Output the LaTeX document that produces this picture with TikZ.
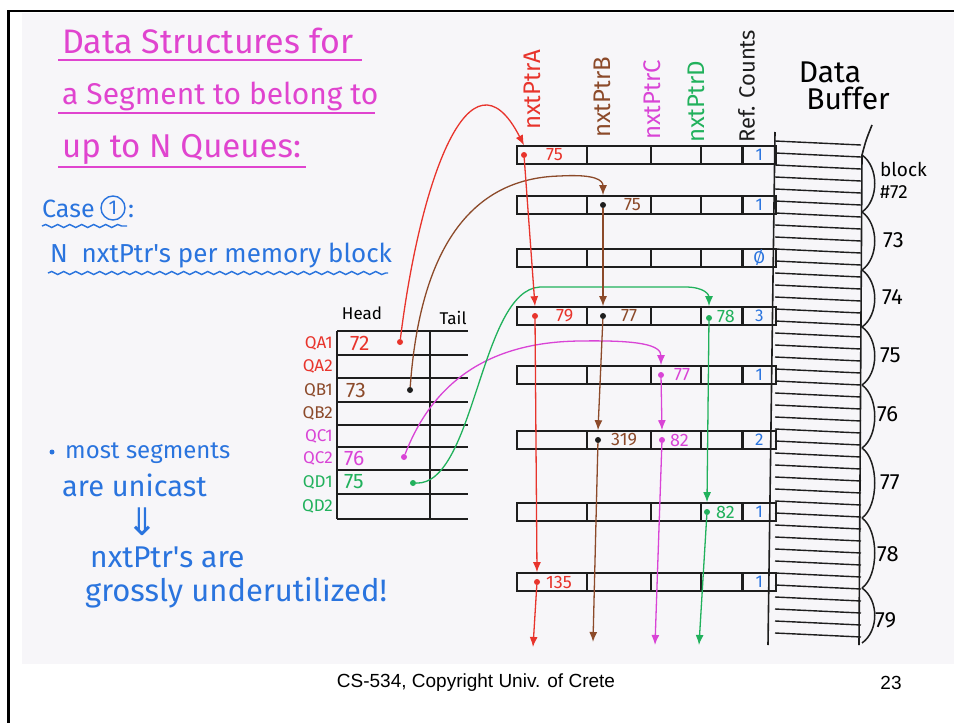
\documentclass[tikz,border=0pt]{standalone}
\usepackage{fontspec}
\setmainfont{Liberation Sans}
\newfontfamily\hand{Fira Sans}
\newfontfamily\sym{DejaVu Sans}
\usetikzlibrary{arrows.meta,decorations.pathmorphing}

\definecolor{ptrA}{HTML}{E8342C}
\definecolor{ptrB}{HTML}{8C4A2A}
\definecolor{ptrC}{HTML}{D944D6}
\definecolor{ptrD}{HTML}{21B15C}
\definecolor{pen}{HTML}{2A74DE}
\definecolor{title}{HTML}{E044CF}
\definecolor{ink}{HTML}{1E1E1E}
\definecolor{paper}{HTML}{F7F6F9}

\newcommand\hs[1]{\hand\fontsize{#1}{#1}\selectfont}

\begin{document}
\begin{tikzpicture}[x=1pt,y=-1pt,
    cell/.style ={draw=ink, line width=1.6pt, minimum height=18pt, inner sep=0pt, anchor=west},
    dot/.style ={circle, fill, inner sep=0pt, minimum size=6pt},
    val/.style ={font=\hs{18}, anchor=west, inner sep=0pt},
    refc/.style ={text=pen, font=\hs{17}, inner sep=0pt},
    link/.style ={line width=1.3pt, -{Latex[length=10pt,width=8pt]}},
    hdr/.style ={rotate=90, anchor=south west, inner sep=0pt, font=\hs{24}},
    ttl/.style ={text=title, anchor=base west, inner sep=0pt},
    blu/.style ={text=pen, anchor=base west, inner sep=0pt},
    qlbl/.style ={anchor=east, inner sep=0pt, font=\hs{17}},
    qval/.style ={anchor=west, inner sep=0pt, font=\hs{21}},
    blk/.style ={anchor=west, inner sep=0pt, font=\hs{22}},
    wavy/.style ={pen, line width=1.4pt, decorate, decoration={snake, amplitude=1.5pt, segment length=12pt}}]

\useasboundingbox (0,0) rectangle (954,723);
\fill[paper] (22,13) rectangle (954,664);
\draw[line width=2.5pt] (8.5,723) -- (8.5,11) -- (954,11);

% title and notes
\node[ttl, font=\hs{34}] (t1) at (62,53) {Data Structures for};
\node[ttl, font=\hs{30}] (t2) at (62,104) {a Segment to belong to};
\node[ttl, font=\hs{33}] (t3) at (62,157) {up to N Queues:};
\draw[title, line width=1.6pt] (58,60) -- (362,60);
\draw[title, line width=1.6pt] (58,113) -- (375,113);
\draw[title, line width=1.6pt] (58,167) -- (306,167);

\node[blu, font=\hs{25}] (case) at (42,217) {Case};
\node[draw=pen, circle, line width=1.4pt, inner sep=0pt, minimum size=24pt, text=pen,
      font=\hs{20}] (one) at (113,208) {1};
\node[blu, font=\hs{25}] (colon) at (128,217) {:};
\draw[wavy] (42,226) -- (127,226);
\node[blu, font=\hs{26}] (nptr) at (50,262) {N\ \ nxtPtr's per memory block};
\draw[wavy] (48,273) -- (388,273);

\fill[pen] (52,452) circle (2.5pt);
\node[blu, font=\hs{24}] (most) at (65,458) {most segments};
\node[blu, font=\hs{29}] (uni) at (62,496) {are unicast};
\node[text=pen, font=\sym\fontsize{38}{38}\selectfont] (dn) at (142,522) {⇓};
\node[blu, font=\hs{30}] (ptrs) at (90,567) {nxtPtr's are};
\node[blu, font=\hs{31}] (gross) at (85,601) {grossly underutilized!};

% queue head/tail table
\node[font=\hs{17}] (head) at (362,313) {Head};
\node[font=\hs{17}] (tail) at (453,318) {Tail};
\foreach \y in {331,355,378,402,425,447,470,494,519}
  \draw[ink, line width=1.6pt] (337,\y) -- (468,\y);
\draw[ink, line width=1.6pt] (337,331) -- (337,519);
\draw[ink, line width=1.6pt] (430,331) -- (430,519);

\node[qlbl, ptrA] (QA1) at (333,343) {QA1};
\node[qlbl, ptrA] (QA2) at (333,366) {QA2};
\node[qlbl, ptrB] (QB1) at (333,390) {QB1};
\node[qlbl, ptrB] (QB2) at (333,413) {QB2};
\node[qlbl, ptrC] (QC1) at (333,436) {QC1};
\node[qlbl, ptrC] (QC2) at (333,458) {QC2};
\node[qlbl, ptrD] (QD1) at (333,482) {QD1};
\node[qlbl, ptrD] (QD2) at (333,506) {QD2};

\node[qval, ptrA] (h72) at (350,343) {72};
\node[qval, ptrB] (h73) at (346,390) {73};
\node[qval, ptrC] (h76) at (344,458) {76};
\node[qval, ptrD] (h75) at (344,482) {75};
\node[dot, ptrA] (qa1) at (400,342) {};
\node[dot, ink] (qb1) at (410,390) {};
\node[dot, ptrC] (qc2) at (404,457) {};
\node[dot, ptrD] (qd1) at (413,483) {};

% column headers
\node[hdr, ptrA] (hA) at (541,130) {nxtPtrA};
\node[hdr, ptrB] (hB) at (611,138) {nxtPtrB};
\node[hdr, ptrC] (hC) at (661,140) {nxtPtrC};
\node[hdr, ptrD] (hD) at (705,143) {nxtPtrD};
\node[hdr, ink, font=\hs{22}] (hR) at (755,143) {Ref. Counts};
\node[font=\hs{30}, inner sep=0pt] (data) at (830,72) {Data};
\node[font=\hs{30}, inner sep=0pt] (buf) at (848,98) {Buffer};

% data buffer
\foreach \y in {141,153,...,633}
  \draw[ink, line width=1.4pt] (775,\y) -- (861,\y+4);
\draw[ink, line width=1.6pt] (775,132) -- (768,645);
\draw[ink, line width=1.6pt] (872,125) .. controls (866,140) .. (862,155) -- (859,645);
\foreach \ya/\yb in {155/212,212/270,270/327,327/385,385/448,448/518,518/588,588/643}
  \draw[ink, line width=1.5pt] (862,\ya) .. controls (879,\ya+12) and (879,\yb-12) .. (862,\yb);
\node[blk, font=\hs{19}] (b72a) at (880,169) {block};
\node[blk, font=\hs{19}] (b72) at (880,192) {\#72};
\node[blk] (b73) at (883,240) {73};
\node[blk] (b74) at (882,297) {74};
\node[blk] (b75) at (880,355) {75};
\node[blk] (b76) at (877,414) {76};
\node[blk] (b77) at (880,482) {77};
\node[blk] (b78) at (877,554) {78};
\node[blk] (b79) at (875,620) {79};

% memory blocks
\foreach \b/\y in {72/155,73/205,74/258,75/316,76/375,77/440,78/512,79/582}{
  \node[cell, minimum width=70pt] (a\b) at (516,\y) {};
  \node[cell, minimum width=64pt] (b\b) at (586,\y) {};
  \node[cell, minimum width=50pt] (c\b) at (650,\y) {};
  \node[cell, minimum width=42pt] (d\b) at (700,\y) {};
  \node[cell, minimum width=33pt] (r\b) at (742,\y) {};
  \draw[ink, line width=3pt] (r\b.north west) -- (r\b.south west);
}
\node[refc] at (r72) {1};
\node[refc] at (r73) {1};
\node[refc] at (r74) {\O};
\node[refc] at (r75) {3};
\node[refc] at (r76) {1};
\node[refc] at (r77) {2};
\node[refc] at (r78) {1};
\node[refc] at (r79) {1};

% pointers stored in the blocks
\node[dot, ptrA] (pa72) at (524,155) {};
\node[val, ptrA] at (546,155) {75};
\node[dot, ink] (pb73) at (603,205) {};
\node[val, ptrB] at (624,205) {75};
\node[dot, ptrA] (pa75) at (535,316) {};
\node[val, ptrA] at (556,316) {79};
\node[dot, ink] (pb75) at (603,316) {};
\node[val, ptrB] at (621,316) {77};
\node[dot, ptrD] (pd75) at (709,318) {};
\node[val, ptrD] at (717,316) {78};
\node[dot, ptrC] (pc76) at (661,375) {};
\node[val, ptrC] at (674,375) {77};
\node[dot, ink] (pb77) at (598,440) {};
\node[val, ptrB] at (611,440) {319};
\node[dot, ptrC] (pc77) at (662,440) {};
\node[val, ptrC] at (670,440) {82};
\node[dot, ptrD] (pd78) at (707,512) {};
\node[val, ptrD] at (716,512) {82};
\node[dot, ptrA] (pa79) at (537,582) {};
\node[val, ptrA] at (546,582) {135};

\coordinate (endA) at (533,647);
\coordinate (endB) at (593,642);
\coordinate (endC) at (655,645);
\coordinate (endD) at (699,645);

% queue heads into the blocks
\draw[link, ptrA] (qa1) .. controls (420,180) and (470,40) .. (pa72 |- a72.north);
\draw[link, ptrB] (qb1) .. controls (420,250) and (470,178) .. (560,176)
   .. controls (595,174) and (603,180) .. (pb73 |- b73.north);
\draw[link, ptrC] (qc2) .. controls (430,390) and (480,342) .. (580,341)
   .. controls (640,340) and (661,345) .. (pc76 |- c76.north);
\draw[link, ptrD] (qd1) .. controls (475,485) and (480,290) .. (540,287)
   -- (685,287) .. controls (705,287) and (709,295) .. (pd75 |- d75.north);

% next pointers
\draw[link, ptrA] (pa72) -- (pa75 |- a75.north);
\draw[link, ptrA] (pa75) -- (pa79 |- a79.north);
\draw[link, ptrA] (pa79) -- (endA);
\draw[link, ptrB] (pb73) -- (pb75 |- b75.north);
\draw[link, ptrB] (pb75) -- (pb77 |- b77.north);
\draw[link, ptrB] (pb77) -- (endB);
\draw[link, ptrC] (pc76) -- (pc77 |- c77.north);
\draw[link, ptrC] (pc77) -- (endC);
\draw[link, ptrD] (pd75) -- (pd78 |- d78.north);
\draw[link, ptrD] (pd78) -- (endD);

% footer
\node[font=\fontsize{19}{19}\selectfont] (foot) at (476,683) {CS-534, Copyright Univ. of Crete};
\node[font=\fontsize{19}{19}\selectfont] (page) at (891,683) {23};
\end{tikzpicture}
\end{document}
